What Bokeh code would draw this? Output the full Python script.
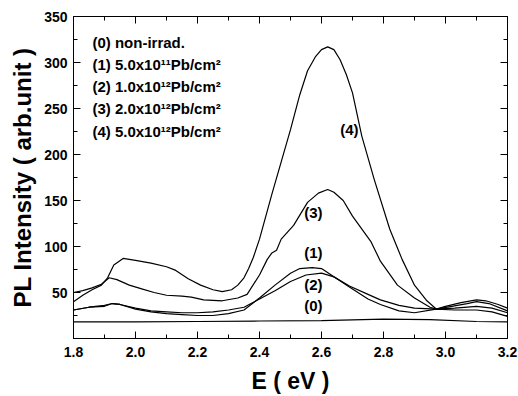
from bokeh.plotting import figure
from bokeh.models import FixedTicker, LinearAxis, Range1d, Label
from bokeh.embed import file_html
from bokeh.resources import INLINE

# ---------------- data ----------------
x0 = [1.80, 2.00, 2.20, 2.40, 2.60, 2.80, 2.95, 3.10, 3.20]
y0 = [18, 18, 18.5, 19, 19.5, 21, 20.5, 18.5, 18]

x1 = [1.80, 1.85, 1.90, 1.925, 1.95, 2.00, 2.05, 2.10, 2.15, 2.20, 2.25, 2.30, 2.35,
      2.40, 2.45, 2.50, 2.53, 2.57, 2.60, 2.64, 2.69, 2.75, 2.79, 2.85, 2.90, 2.97,
      3.03, 3.10, 3.15, 3.20]
y1 = [31, 34, 35, 38, 37, 32, 29, 27, 26, 25, 25, 27, 31,
      44, 58, 71, 76, 77, 76, 67, 57, 48, 42, 36, 33, 32,
      33, 35, 33, 28]

x2 = [1.80, 1.85, 1.90, 1.925, 1.95, 2.00, 2.05, 2.10, 2.15, 2.20, 2.25, 2.30, 2.35,
      2.40, 2.45, 2.50, 2.55, 2.60, 2.64, 2.69, 2.75, 2.79, 2.85, 2.90, 2.97,
      3.03, 3.10, 3.15, 3.20]
y2 = [31, 34, 36, 38, 37, 33, 30, 29, 28, 28, 29, 31, 34,
      43, 52, 62, 69, 71, 67, 56, 43, 37, 30, 28, 32,
      31, 31, 29, 24]

x3 = [1.80, 1.83, 1.86, 1.89, 1.915, 1.94, 1.98, 2.02, 2.06, 2.10, 2.15, 2.18, 2.22,
      2.28, 2.33, 2.36, 2.40, 2.425, 2.44, 2.455, 2.47, 2.51, 2.555, 2.59, 2.62,
      2.64, 2.67, 2.70, 2.76, 2.79, 2.845, 2.90, 2.95, 2.97, 3.02, 3.07, 3.10,
      3.14, 3.20]
y3 = [50, 52, 55, 59, 66, 64, 58, 54, 50, 47, 46, 45, 42,
      41, 44, 48, 69, 86, 93, 96, 108, 123, 148, 158, 162,
      159, 150, 133, 105, 84, 58, 44, 34, 32, 35, 38, 40,
      38, 30]

x4 = [1.80, 1.83, 1.86, 1.89, 1.91, 1.93, 1.96, 2.00, 2.05, 2.10, 2.13, 2.17, 2.21,
      2.25, 2.28, 2.31, 2.33, 2.35, 2.365, 2.38, 2.40, 2.44, 2.47, 2.50, 2.53,
      2.555, 2.58, 2.60, 2.62, 2.64, 2.66, 2.68, 2.70, 2.73, 2.77, 2.82, 2.86,
      2.90, 2.94, 2.97, 3.00, 3.05, 3.10, 3.13, 3.17, 3.20]
y4 = [40, 47, 53, 58, 66, 80, 87, 85, 82, 78, 74, 65, 58,
      53, 51, 53, 58, 66, 76, 88, 108, 157, 192, 227, 265,
      291, 306, 314, 317, 314, 303, 287, 267, 220, 173, 119, 86,
      58, 41, 32, 35, 39, 42, 41, 37, 33]

x_ticks = [1.8, 2.0, 2.2, 2.4, 2.6, 2.8, 3.0, 3.2]
x_tick_labels = ["1.8", "2.0", "2.2", "2.4", "2.6", "2.8", "3.0", "3.2"]
x_minor = [1.9, 2.1, 2.3, 2.5, 2.7, 2.9, 3.1]
y_ticks = [50, 100, 150, 200, 250, 300, 350]
y_tick_labels = ["50", "100", "150", "200", "250", "300", "350"]
y_minor = [25, 75, 125, 175, 225, 275, 325]

x_title = "E ( eV )"
y_title = "PL Intensity ( arb.unit )"

legend_lines = ["(0) non-irrad.",
                "(1) 5.0x10\u00b9\u00b9Pb/cm\u00b2",
                "(2) 1.0x10\u00b9\u00b2Pb/cm\u00b2",
                "(3) 2.0x10\u00b9\u00b2Pb/cm\u00b2",
                "(4) 5.0x10\u00b9\u00b2Pb/cm\u00b2"]
curve_tags = ["(0)", "(1)", "(2)", "(3)", "(4)"]

FONT = "Liberation Sans"

# ---------------- figure ----------------
p = figure(width=518, height=396, output_backend="svg", toolbar_location=None,
           x_range=Range1d(1.8, 3.2), y_range=Range1d(0, 350),
           min_border_left=73, min_border_right=11, min_border_top=16,
           min_border_bottom=56)
p.xgrid.visible = False
p.ygrid.visible = False
p.outline_line_color = "black"
p.outline_line_width = 1
p.background_fill_color = "white"
p.border_fill_color = "white"

for xs, ys in [(x0, y0), (x1, y1), (x2, y2), (x3, y3), (x4, y4)]:
    p.line(xs, ys, line_color="black", line_width=1.2)


def style_axis(ax, ticks, minor, labels, show_labels):
    ax.ticker = FixedTicker(ticks=ticks, minor_ticks=minor)
    ax.axis_line_color = "black"
    ax.major_tick_line_color = "black"
    ax.minor_tick_line_color = "black"
    ax.major_tick_in = 7
    ax.major_tick_out = 0
    ax.minor_tick_in = 4
    ax.minor_tick_out = 0
    ax.major_label_text_font = FONT
    ax.major_label_text_font_style = "bold"
    ax.major_label_text_color = "black"
    ax.major_label_text_font_size = "14px"
    if show_labels:
        ax.major_label_overrides = {t: l for t, l in zip(ticks, labels)}
    else:
        ax.major_label_overrides = {t: "" for t in ticks}
        ax.major_label_standoff = 0


style_axis(p.xaxis[0], x_ticks, x_minor, x_tick_labels, True)
style_axis(p.yaxis[0], y_ticks, y_minor, y_tick_labels, True)
p.xaxis[0].major_label_standoff = 8
p.yaxis[0].major_label_standoff = 6

p.xaxis[0].axis_label = x_title
p.yaxis[0].axis_label = y_title
for ax in (p.xaxis[0], p.yaxis[0]):
    ax.axis_label_text_font = FONT
    ax.axis_label_text_font_style = "bold"
    ax.axis_label_text_color = "black"
p.xaxis[0].axis_label_text_font_size = "23px"
p.yaxis[0].axis_label_text_font_size = "24px"
p.xaxis[0].axis_label_standoff = 8
p.yaxis[0].axis_label_standoff = 5

top = LinearAxis()
style_axis(top, x_ticks, x_minor, x_tick_labels, False)
p.add_layout(top, "above")
right = LinearAxis()
style_axis(right, y_ticks, y_minor, y_tick_labels, False)
p.add_layout(right, "right")

# legend text block
leg_x = 1.861
leg_y = [321.5, 298, 273.5, 249.5, 225]
for txt, yy in zip(legend_lines, leg_y):
    p.add_layout(Label(x=leg_x, y=yy, text=txt, text_font=FONT,
                       text_font_style="bold", text_font_size="15px",
                       text_color="black", text_baseline="middle",
                       text_align="left"))

# curve tags
tag_pos = [(2.574, 35.5), (2.574, 94), (2.574, 59), (2.574, 137), (2.69, 227)]
for tag, (tx, ty) in zip(curve_tags, tag_pos):
    p.add_layout(Label(x=tx, y=ty, text=tag, text_font=FONT,
                       text_font_style="bold", text_font_size="15px",
                       text_color="black", text_baseline="middle",
                       text_align="center"))

open("out.html", "w").write(file_html(p, INLINE))
